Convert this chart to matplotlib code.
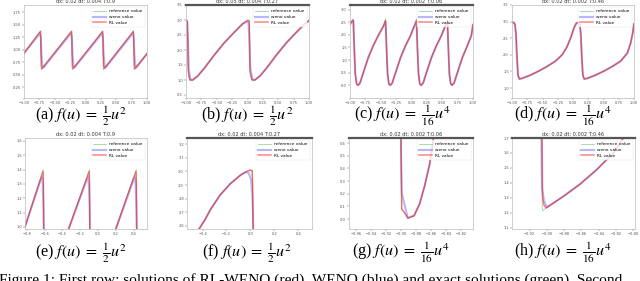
import matplotlib
matplotlib.use("Agg")
import matplotlib.pyplot as plt

plt.rcParams['mathtext.fontset'] = 'stix'

# ---------------- data ----------------
titles = ["dx: 0.02 dt: 0.004 T:0.9", "dx: 0.05 dt: 0.004 T:0.27",
          "dx: 0.02 dt: 0.002 T:0.06", "dx: 0.02 dt: 0.002 T:0.46",
          "dx: 0.02 dt: 0.004 T:0.9", "dx: 0.02 dt: 0.004 T:0.27",
          "dx: 0.02 dt: 0.002 T:0.06", "dx: 0.02 dt: 0.002 T:0.46"]
captions = [r"(a) $f(u)\;=\;\frac{1}{2}u^2$", r"(b) $f(u)\;=\;\frac{1}{2}u^2$",
            r"(c) $f(u)\;=\;\frac{1}{16}u^4$", r"(d) $f(u)\;=\;\frac{1}{16}u^4$",
            r"(e) $f(u)\;=\;\frac{1}{2}u^2$", r"(f) $f(u)\;=\;\frac{1}{2}u^2$",
            r"(g) $f(u)\;=\;\frac{1}{16}u^4$", r"(h) $f(u)\;=\;\frac{1}{16}u^4$"]
legend_labels = ["reference value", "weno value", "RL value"]
fig_caption = ("Figure 1: First row: solutions of RL-WENO (red), WENO (blue) "
               "and exact solutions (green). Second")

# (a)
x_ref_a = [-1.00, -0.728, -0.722, -0.223, -0.217, 0.283, 0.289, 0.783, 0.789, 1.00]
y_ref_a = [0.93, 1.38, 0.60, 1.38, 0.60, 1.38, 0.60, 1.38, 0.60, 0.92]
x_weno_a = [-1.00, -0.740, -0.728, -0.716, -0.700, -0.684, -0.235, -0.223, -0.211, -0.195, -0.179,
            0.271, 0.283, 0.295, 0.311, 0.327, 0.771, 0.783, 0.795, 0.811, 0.827, 1.00]
y_weno_a = [0.93, 1.33, 1.25, 0.90, 0.68, 0.64, 1.33, 1.25, 0.90, 0.68, 0.64,
            1.33, 1.25, 0.90, 0.68, 0.64, 1.33, 1.25, 0.90, 0.68, 0.64, 0.92]
x_rl_a = [-1.00, -0.733, -0.726, -0.718, -0.708, -0.228, -0.221, -0.213, -0.203,
          0.278, 0.285, 0.293, 0.303, 0.778, 0.785, 0.793, 0.803, 1.00]
y_rl_a = [0.93, 1.37, 1.20, 0.70, 0.62, 1.37, 1.20, 0.70, 0.62,
          1.37, 1.20, 0.70, 0.62, 1.37, 1.20, 0.70, 0.62, 0.92]

# (b)
x_ref_b = [-1.00, -0.973, -0.962, -0.930, -0.892, -0.811, -0.703, -0.541, -0.378, -0.216, -0.081,
           0.011, 0.032, 0.043, 0.081, 0.119, 0.200, 0.308, 0.470, 0.632, 0.795, 0.930, 1.00]
y_ref_b = [3.02, 2.98, 1.11, 0.99, 1.00, 1.13, 1.39, 1.83, 2.24, 2.59, 2.87,
           3.00, 2.98, 1.11, 0.99, 1.00, 1.13, 1.39, 1.83, 2.24, 2.59, 2.87, 2.98]
x_weno_b = [-1.00, -0.985, -0.970, -0.955, -0.930, -0.892, -0.811, -0.703, -0.541, -0.378, -0.216,
            -0.081, 0.000, 0.015, 0.030, 0.045, 0.081, 0.119, 0.200, 0.308, 0.470, 0.632, 0.795,
            0.930, 1.00]
y_weno_b = [2.97, 2.92, 2.40, 1.40, 1.02, 1.00, 1.13, 1.39, 1.83, 2.24, 2.59,
            2.87, 2.95, 2.90, 2.40, 1.40, 1.02, 1.00, 1.13, 1.39, 1.83, 2.24, 2.59,
            2.87, 2.98]
x_rl_b = [-1.00, -0.976, -0.964, -0.935, -0.892, -0.811, -0.703, -0.541, -0.378, -0.216, -0.081,
          0.008, 0.028, 0.040, 0.075, 0.119, 0.200, 0.308, 0.470, 0.632, 0.795, 0.930, 1.00]
y_rl_b = [3.00, 2.95, 1.30, 1.00, 1.00, 1.13, 1.39, 1.83, 2.24, 2.59, 2.87,
          2.99, 2.95, 1.30, 1.00, 1.00, 1.13, 1.39, 1.83, 2.24, 2.59, 2.87, 2.98]

# (c)
x_ref_c = [-1.000, -0.962, -0.946, -0.930, -0.914, -0.892, -0.870, -0.838, -0.784, -0.703, -0.622,
           -0.541, -0.459, -0.422, -0.405, -0.389, -0.368, -0.346, -0.314, -0.259, -0.178, -0.097,
           -0.016, 0.043, 0.081, 0.097, 0.114, 0.135, 0.157, 0.189, 0.243, 0.324, 0.405, 0.486,
           0.546, 0.584, 0.600, 0.616, 0.638, 0.659, 0.692, 0.746, 0.827, 0.908, 0.973, 1.000]
y_ref_c = [2.41, 2.57, 2.63, 1.37, 0.43, 0.05, 0.00, 0.09, 0.50, 1.10, 1.57,
           1.97, 2.33, 2.64, 1.37, 0.43, 0.05, 0.00, 0.09, 0.50, 1.10, 1.57,
           1.97, 2.33, 2.64, 1.37, 0.43, 0.05, 0.00, 0.09, 0.50, 1.10, 1.57, 1.97,
           2.33, 2.64, 1.37, 0.43, 0.05, 0.00, 0.09, 0.50, 1.10, 1.57, 1.97, 2.40]
y_weno_c = [2.41, 2.55, 2.55, 1.45, 0.47, 0.07, 0.01, 0.09, 0.50, 1.10, 1.57,
            1.97, 2.33, 2.52, 1.45, 0.47, 0.07, 0.01, 0.09, 0.50, 1.10, 1.57,
            1.97, 2.33, 2.52, 1.45, 0.47, 0.07, 0.01, 0.09, 0.50, 1.10, 1.57, 1.97,
            2.33, 2.52, 1.45, 0.47, 0.07, 0.01, 0.09, 0.50, 1.10, 1.57, 1.97, 2.40]
y_rl_c = [2.41, 2.56, 2.58, 1.40, 0.45, 0.06, 0.00, 0.09, 0.50, 1.10, 1.57,
          1.97, 2.33, 2.56, 1.40, 0.45, 0.06, 0.00, 0.09, 0.50, 1.10, 1.57,
          1.97, 2.33, 2.56, 1.40, 0.45, 0.06, 0.00, 0.09, 0.50, 1.10, 1.57, 1.97,
          2.33, 2.56, 1.40, 0.45, 0.06, 0.00, 0.09, 0.50, 1.10, 1.57, 1.97, 2.40]

# (d)
x_ref_d = [-1.000, -0.973, -0.951, -0.934, -0.918, -0.901, -0.879, -0.836, -0.699, -0.562, -0.425,
           -0.288, -0.178, -0.096, -0.030, 0.014, 0.052, 0.085, 0.112, 0.129, 0.145, 0.162,
           0.184, 0.233, 0.370, 0.507, 0.644, 0.781, 0.890, 0.945, 0.978, 1.000]
y_ref_d = [2.97, 2.98, 2.93, 2.65, 1.95, 1.40, 1.27, 1.29, 1.39, 1.51, 1.65,
           1.81, 2.00, 2.25, 2.55, 2.80, 2.95, 2.98, 2.93, 2.65, 1.95, 1.40,
           1.27, 1.29, 1.39, 1.51, 1.65, 1.81, 2.05, 2.35, 2.65, 2.93]
y_weno_d = [2.97, 2.97, 2.90, 2.55, 1.85, 1.38, 1.28, 1.29, 1.39, 1.51, 1.65,
            1.81, 2.00, 2.25, 2.55, 2.80, 2.94, 2.97, 2.90, 2.55, 1.85, 1.38,
            1.28, 1.29, 1.39, 1.51, 1.65, 1.81, 2.05, 2.35, 2.65, 2.93]
y_rl_d = [2.97, 2.98, 2.92, 2.62, 1.92, 1.39, 1.27, 1.29, 1.39, 1.51, 1.65,
          1.81, 2.00, 2.25, 2.55, 2.80, 2.95, 2.98, 2.92, 2.62, 1.92, 1.39,
          1.27, 1.29, 1.39, 1.51, 1.65, 1.81, 2.05, 2.35, 2.65, 2.93]

# (e)
x_ref_e = [-0.83, -0.613, -0.611, -0.35, -0.095, -0.093, 0.18, 0.430, 0.432]
y_ref_e = [0.98, 1.40, 0.80, 0.95, 1.40, 0.80, 0.95, 1.40, 0.80]
x_weno_e = [-0.83, -0.640, -0.628, -0.620, -0.612, -0.606, -0.600,
            -0.35, -0.122, -0.110, -0.102, -0.094, -0.088, -0.082,
            0.18, 0.403, 0.415, 0.423, 0.431, 0.437, 0.443]
y_weno_e = [0.98, 1.335, 1.345, 1.29, 1.15, 0.99, 0.85,
            0.95, 1.335, 1.345, 1.29, 1.15, 0.99, 0.85,
            0.95, 1.335, 1.345, 1.29, 1.15, 0.99, 0.85]
x_rl_e = [-0.83, -0.618, -0.612, -0.610, -0.609,
          -0.35, -0.100, -0.094, -0.092, -0.091,
          0.18, 0.425, 0.431, 0.433, 0.434]
y_rl_e = [0.98, 1.385, 1.30, 1.00, 0.85,
          0.95, 1.385, 1.30, 1.00, 0.85,
          0.95, 1.385, 1.30, 1.00, 0.85]

# (f)
x_ref_f = [-0.446, -0.424, -0.376, -0.334, -0.251, -0.167, -0.084, -0.028, 0.000, 0.017, 0.022, 0.024]
y_ref_f = [2.549, 2.585, 2.651, 2.720, 2.829, 2.910, 2.971, 3.000, 3.010, 3.007, 2.573, 2.500]
x_weno_f = [-0.446, -0.424, -0.376, -0.334, -0.251, -0.167, -0.084, -0.042, -0.014, 0.006, 0.017, 0.022, 0.025]
y_weno_f = [2.549, 2.585, 2.651, 2.720, 2.829, 2.910, 2.971, 2.995, 2.988, 2.939, 2.817, 2.700, 2.500]
x_rl_f = [-0.446, -0.424, -0.376, -0.334, -0.251, -0.167, -0.084, -0.028, 0.000, 0.014, 0.0195, 0.022, 0.025]
y_rl_f = [2.549, 2.585, 2.651, 2.720, 2.829, 2.910, 2.971, 3.000, 3.010, 3.005, 2.915, 2.670, 2.500]

# (g)
x_ref_g = [-0.9007, -0.8998, -0.8969, -0.8911, -0.8831, -0.8756, -0.8689, -0.8622, -0.8578, -0.8564]
y_ref_g = [0.705, 0.074, 0.061, 0.005, 0.026, 0.121, 0.263, 0.437, 0.613, 0.679]
x_weno_g = [-0.9009, -0.8996, -0.8916, -0.8831, -0.8756, -0.8689, -0.8622, -0.8578, -0.8564]
y_weno_g = [0.705, 0.205, 0.011, 0.026, 0.121, 0.263, 0.437, 0.613, 0.679]
x_rl_g = [-0.9007, -0.8996, -0.8969, -0.8911, -0.8831, -0.8756, -0.8689, -0.8622, -0.8578, -0.8564]
y_rl_g = [0.705, 0.079, 0.058, 0.006, 0.026, 0.121, 0.263, 0.437, 0.613, 0.679]

# (h)
x_ref_h = [-0.9058, -0.9054, -0.9046, -0.9000, -0.8808, -0.8615, -0.8423, -0.8231, -0.8115, -0.8077]
y_ref_h = [1.756, 1.233, 1.216, 1.238, 1.311, 1.393, 1.489, 1.600, 1.700, 1.733]
x_weno_h = [-0.9065, -0.9058, -0.9031, -0.9000, -0.8808, -0.8615, -0.8423, -0.8231, -0.8115, -0.8077]
y_weno_h = [1.756, 1.367, 1.278, 1.238, 1.311, 1.393, 1.489, 1.600, 1.700, 1.733]
x_rl_h = [-0.9056, -0.9050, -0.9038, -0.9008, -0.8808, -0.8615, -0.8423, -0.8231, -0.8115, -0.8077]
y_rl_h = [1.756, 1.311, 1.256, 1.233, 1.311, 1.393, 1.489, 1.600, 1.700, 1.733]

xticks_row1 = [-1.00, -0.75, -0.50, -0.25, 0.00, 0.25, 0.50, 0.75, 1.00]
yticks_a = [0.25, 0.50, 0.75, 1.00, 1.25, 1.50, 1.75]
yticks_b = [0.5, 1.0, 1.5, 2.0, 2.5, 3.0, 3.5]
yticks_c = [0.0, 0.5, 1.0, 1.5, 2.0, 2.5, 3.0]
yticks_d = [1.0, 1.5, 2.0, 2.5, 3.0, 3.5]
xticks_e = [-0.8, -0.6, -0.4, -0.2, 0.0, 0.2, 0.4]
yticks_e = [1.0, 1.1, 1.2, 1.3, 1.4, 1.5, 1.6]
xticks_f = [-0.4, -0.2, 0.0, 0.2, 0.4]
yticks_f = [2.6, 2.7, 2.8, 2.9, 3.0, 3.1, 3.2]
xticks_g = [-0.96, -0.94, -0.92, -0.90, -0.88, -0.86, -0.84, -0.82]
yticks_g = [0.0, 0.1, 0.2, 0.3, 0.4, 0.5, 0.6]
xticks_h = [-0.92, -0.90, -0.88, -0.86, -0.84, -0.82, -0.80]
yticks_h = [1.1, 1.2, 1.3, 1.4, 1.5, 1.6, 1.7]

panels = [
    (x_ref_a, y_ref_a, x_weno_a, y_weno_a, x_rl_a, y_rl_a),
    (x_ref_b, y_ref_b, x_weno_b, y_weno_b, x_rl_b, y_rl_b),
    (x_ref_c, y_ref_c, x_ref_c, y_weno_c, x_ref_c, y_rl_c),
    (x_ref_d, y_ref_d, x_ref_d, y_weno_d, x_ref_d, y_rl_d),
    (x_ref_e, y_ref_e, x_weno_e, y_weno_e, x_rl_e, y_rl_e),
    (x_ref_f, y_ref_f, x_weno_f, y_weno_f, x_rl_f, y_rl_f),
    (x_ref_g, y_ref_g, x_weno_g, y_weno_g, x_rl_g, y_rl_g),
    (x_ref_h, y_ref_h, x_weno_h, y_weno_h, x_rl_h, y_rl_h),
]
ticks = [(xticks_row1, yticks_a), (xticks_row1, yticks_b), (xticks_row1, yticks_c),
         (xticks_row1, yticks_d), (xticks_e, yticks_e), (xticks_f, yticks_f),
         (xticks_g, yticks_g), (xticks_h, yticks_h)]
limits = [((-1.0, 1.0), (0.03, 1.90)), ((-1.0, 1.0), (0.40, 3.50)),
          ((-1.0, 1.0), (-0.50, 3.18)), ((-1.0, 1.0), (0.70, 3.50)),
          ((-0.819, 0.55), (0.985, 1.62)), ((-0.53, 0.516), (2.578, 3.244)),
          ((-0.970, -0.8044), (-0.079, 0.64)), ((-0.9404, -0.798), (1.093, 1.70))]

# ---------------- layout ----------------
W, H = 640, 281
fig = plt.figure(figsize=(6.4, 2.81), dpi=100)
boxes = [(24, 5, 147, 98), (186, 5, 309, 98), (350, 5, 473, 98), (512, 5, 634, 98),
         (25, 138, 147, 229), (187, 138, 312, 229), (349, 138, 473, 229), (512, 138, 635, 229)]
thick_top = [False, True, True, False, False, True, True, True]
cap_pos = [(81, 116), (247, 116), (403, 116), (563, 116),
           (81, 253), (247, 253), (401, 253), (563, 253)]

for i, (l, t, r, b) in enumerate(boxes):
    ax = fig.add_axes([l / W, 1 - b / H, (r - l) / W, (b - t) / H])
    xr, yr, xw, yw, xl, yl = panels[i]
    ax.plot(xr, yr, color="#22aa22", alpha=0.5, lw=0.55, label=legend_labels[0])
    ax.plot(xw, yw, color="#3333ff", alpha=0.35, lw=1.5, label=legend_labels[1])
    ax.plot(xl, yl, color="#ff2222", alpha=0.55, lw=1.1, label=legend_labels[2])
    ax.set_xlim(*limits[i][0])
    ax.set_ylim(*limits[i][1])
    ax.set_xticks(ticks[i][0])
    ax.set_yticks(ticks[i][1])
    ax.tick_params(labelsize=2.6, length=1.2, width=0.3, pad=1, colors="#555555")
    for s in ax.spines.values():
        s.set_color("#bbbbbb")
        s.set_linewidth(0.5)
    if thick_top[i]:
        ax.spines["top"].set_color("#555555")
        ax.spines["top"].set_linewidth(1.6)
    ax.set_title(titles[i], fontsize=3.6, pad=1.2, color="#333333")
    leg = ax.legend(loc="upper right", fontsize=3.1, frameon=True, handlelength=3.0,
                    borderpad=0.5, labelspacing=0.4, fancybox=False)
    leg.get_frame().set_linewidth(0.3)
    leg.get_frame().set_edgecolor("#dddddd")
    cx, cy = cap_pos[i]
    fig.text(cx / W, 1 - cy / H, captions[i], ha="center", va="center",
             fontsize=11.6, family="Liberation Serif")

fig.text(-0.002, 1 - 283.5 / H, fig_caption, ha="left", va="baseline",
         fontsize=11.1, family="Liberation Serif")

fig.savefig("out.png", dpi=100)
